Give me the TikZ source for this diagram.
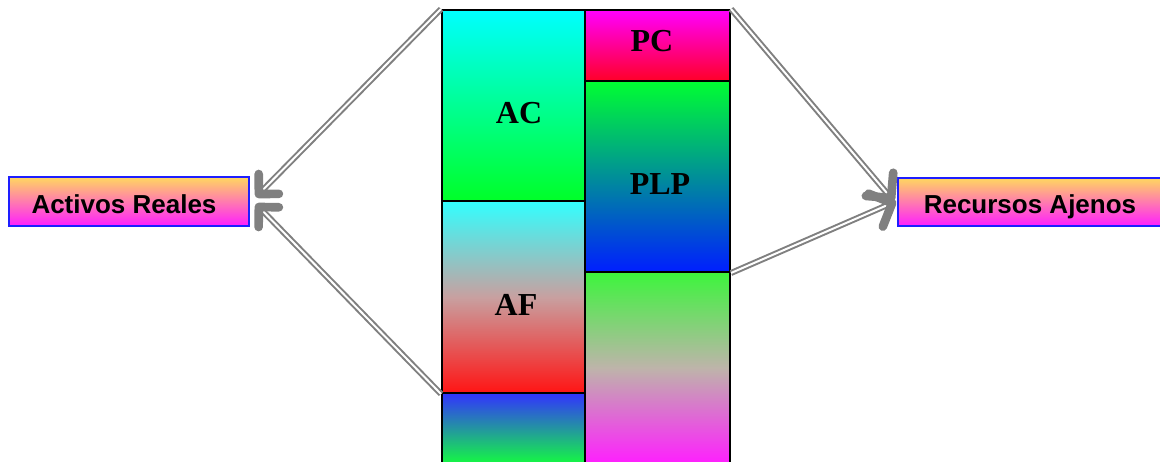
\documentclass[tikz,border=0pt]{standalone}
\usepackage{fontspec}
\setmainfont{Liberation Serif}
\newfontfamily\arialfont{Liberation Sans}
\usetikzlibrary{fit,calc}
\definecolor{cAC1}{RGB}{0,255,255}
\definecolor{cAC2}{RGB}{0,255,40}
\definecolor{cPC1}{RGB}{255,0,255}
\definecolor{cPC2}{RGB}{255,0,40}
\definecolor{cPLP1}{RGB}{0,255,50}
\definecolor{cPLP2}{RGB}{0,30,255}
\definecolor{cAF1}{RGB}{50,255,255}
\definecolor{cAF2}{RGB}{200,160,160}
\definecolor{cAF3}{RGB}{255,20,20}
\definecolor{cBL1}{RGB}{50,50,255}
\definecolor{cBL2}{RGB}{20,255,60}
\definecolor{cBR1}{RGB}{60,245,60}
\definecolor{cBR2}{RGB}{190,180,170}
\definecolor{cBR3}{RGB}{255,30,255}
\definecolor{lblTop}{RGB}{255,215,95}
\definecolor{lblBot}{RGB}{255,30,255}
\definecolor{lblBorder}{RGB}{30,30,255}
\definecolor{arrgray}{RGB}{128,128,128}
\tikzset{
  block/.style={draw=black, line width=1.5pt, inner sep=0pt, rectangle},
  lblbox/.style={draw=lblBorder, line width=1.3pt, inner sep=0pt, rectangle, top color=lblTop, bottom color=lblBot},
  bigtxt/.style={font=\fontsize{24}{28}\selectfont\bfseries, inner sep=0pt, anchor=base},
  smalltxt/.style={font=\arialfont\fontsize{19.5}{23}\selectfont\bfseries, inner sep=0pt, anchor=base},
  shaft/.style={draw=arrgray, line width=1.5pt, double=white, double distance=1.5pt},
  headline/.style={draw=arrgray, line width=6.5pt, line cap=round, line join=round}
}
\begin{document}
\begin{tikzpicture}[x=0.75pt, y=-0.75pt]
\clip (0,0) rectangle (1160,461);
% blocks
\node[block, top color=cAC1, bottom color=cAC2, fit={(442,10) (585,201)}] (AC) {};
\node[block, top color=cAF1, bottom color=cAF3, middle color=cAF2, fit={(442,201) (585,393)}] (AF) {};
\node[block, top color=cBL1, bottom color=cBL2, fit={(442,393) (585,466)}] (BL) {};
\node[block, top color=cPC1, bottom color=cPC2, fit={(585,10) (730,81)}] (PC) {};
\node[block, top color=cPLP1, bottom color=cPLP2, fit={(585,81) (730,272)}] (PLP) {};
\node[block, top color=cBR1, bottom color=cBR3, middle color=cBR2, fit={(585,272) (730,464)}] (BR) {};
% block labels
\node[bigtxt] (tAC) at (519,123) {AC};
\node[bigtxt] (tAF) at (516,315) {AF};
\node[bigtxt] (tPC) at (652,51) {PC};
\node[bigtxt] (tPLP) at (660,194) {PLP};
% side boxes
\node[lblbox, fit={(9,177) (249,226)}] (AR) {};
\node[smalltxt] (tAR) at (124,213) {Activos Reales};
\node[lblbox, fit={(898,178) (1162,226)}] (RA) {};
\node[smalltxt] (tRA) at (1030,213) {Recursos Ajenos};
% arrow tips
\coordinate (L1) at ($(AR.east)+(9,-7.5)$);
\coordinate (L2) at ($(AR.east)+(9,5.5)$);
\coordinate (R1) at ($(RA.west)+(-6,-4)$);
\coordinate (R2) at ($(RA.west)+(-5,1)$);
% shafts
\draw[shaft] (AC.north west) -- (L1);
\draw[shaft] (AF.south west) -- (L2);
\draw[shaft] (PC.north east) -- (R1);
\draw[shaft] (PLP.south east) -- (R2);
% heads
\draw[headline] ($(L1)!15pt!45:(AC.north west)$) -- (L1) -- ($(L1)!15pt!-45:(AC.north west)$);
\draw[headline] ($(L2)!15pt!45:(AF.south west)$) -- (L2) -- ($(L2)!15pt!-45:(AF.south west)$);
\draw[headline] ($(R1)!19pt!45:(PC.north east)$) -- (R1) -- ($(R1)!19pt!-45:(PC.north east)$);
\draw[headline] ($(R2)!19pt!45:(PLP.south east)$) -- (R2) -- ($(R2)!19pt!-45:(PLP.south east)$);
\end{tikzpicture}
\end{document}
